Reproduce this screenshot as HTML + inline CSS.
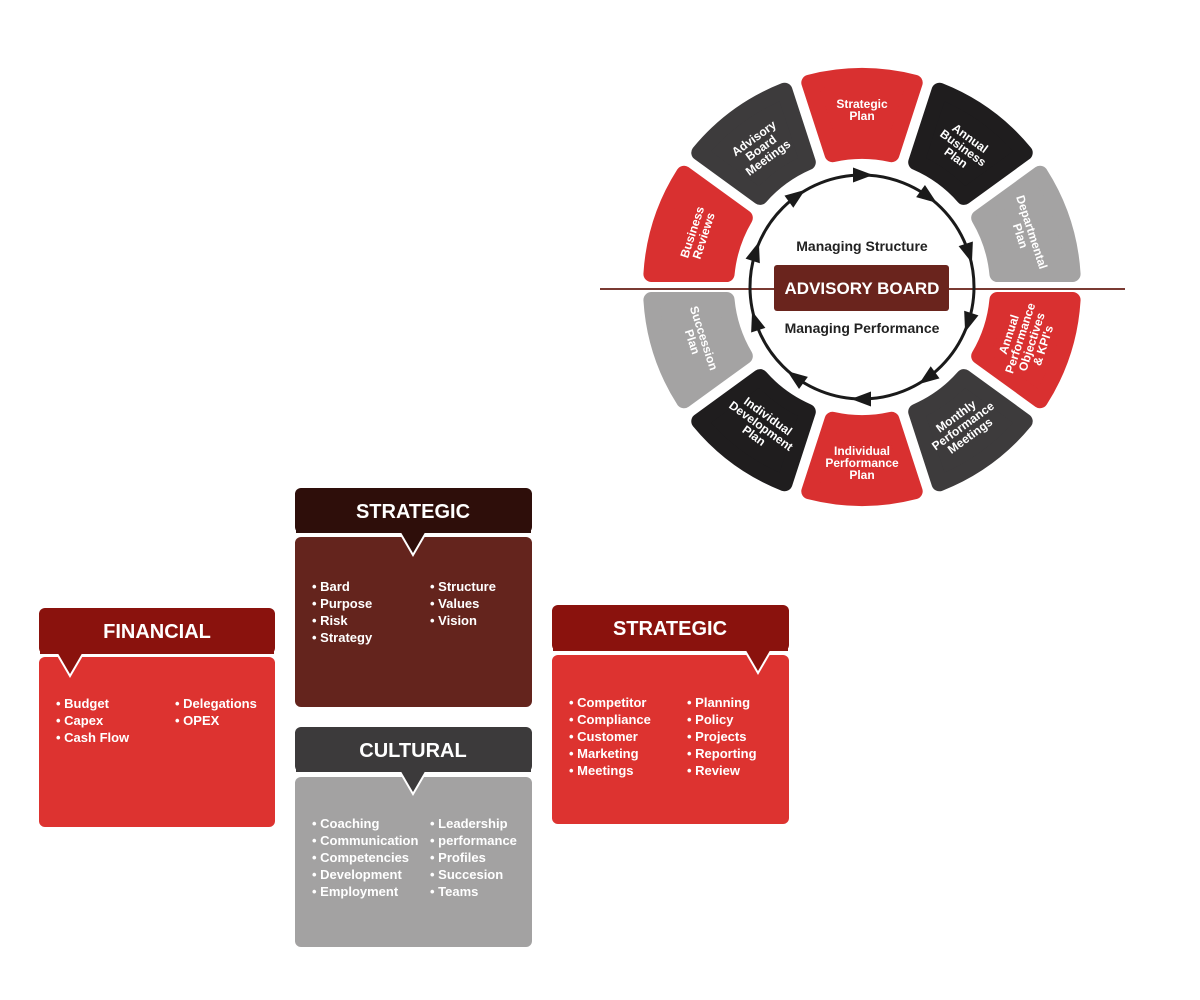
<!DOCTYPE html>
<html><head><meta charset="utf-8"><style>
html,body{margin:0;padding:0;background:#fff;width:1200px;height:1000px;overflow:hidden}
svg{display:block;font-family:"Liberation Sans",sans-serif}
.w{fill:#fff;font-weight:bold;font-size:12px}
.b{fill:#fff;font-weight:bold;font-size:13px}
.t{fill:#fff;font-weight:bold;font-size:20px}
</style></head><body>
<svg width="1200" height="1000" viewBox="0 0 1200 1000">
<defs>
<path id="seg" d="M -29.5 -132.8 L -52.7 -204.3 A 211 211 0 0 1 52.7 -204.3 L 29.5 -132.8 A 136 136 0 0 0 -29.5 -132.8 Z" stroke-width="16" stroke-linejoin="round"/>
<path id="arr" d="M -9 -7.5 L 11 0 L -9 7.5 Z" fill="#1a1a1a"/>
</defs>
<line x1="600" y1="289" x2="1125" y2="289" stroke="#7a3a33" stroke-width="2"/>
<g transform="translate(862 287)">
<use href="#seg" fill="#d93030" stroke="#d93030" transform="rotate(0)"/>
<use href="#seg" fill="#1f1d1e" stroke="#1f1d1e" transform="rotate(36)"/>
<use href="#seg" fill="#a4a3a3" stroke="#a4a3a3" transform="rotate(72)"/>
<use href="#seg" fill="#d93030" stroke="#d93030" transform="rotate(108)"/>
<use href="#seg" fill="#3d3b3c" stroke="#3d3b3c" transform="rotate(144)"/>
<use href="#seg" fill="#d93030" stroke="#d93030" transform="rotate(180)"/>
<use href="#seg" fill="#1f1d1e" stroke="#1f1d1e" transform="rotate(216)"/>
<use href="#seg" fill="#a4a3a3" stroke="#a4a3a3" transform="rotate(252)"/>
<use href="#seg" fill="#d93030" stroke="#d93030" transform="rotate(288)"/>
<use href="#seg" fill="#3d3b3c" stroke="#3d3b3c" transform="rotate(324)"/>
<circle cx="0" cy="0" r="112" fill="none" stroke="#1a1a1a" stroke-width="3"/>
<g transform="rotate(0)"><use href="#arr" x="0" y="-112"/></g>
<g transform="rotate(36)"><use href="#arr" x="0" y="-112"/></g>
<g transform="rotate(72)"><use href="#arr" x="0" y="-112"/></g>
<g transform="rotate(108)"><use href="#arr" x="0" y="-112"/></g>
<g transform="rotate(144)"><use href="#arr" x="0" y="-112"/></g>
<g transform="rotate(180)"><use href="#arr" x="0" y="-112"/></g>
<g transform="rotate(216)"><use href="#arr" x="0" y="-112"/></g>
<g transform="rotate(252)"><use href="#arr" x="0" y="-112"/></g>
<g transform="rotate(288)"><use href="#arr" x="0" y="-112"/></g>
<g transform="rotate(324)"><use href="#arr" x="0" y="-112"/></g>
</g>
<g class="w" text-anchor="middle">
<text transform="translate(862 110) rotate(0)"><tspan x="0" y="-2">Strategic</tspan><tspan x="0" y="10">Plan</tspan></text>
<text transform="translate(963 148) rotate(36)"><tspan x="0" y="-8">Annual</tspan><tspan x="0" y="4">Business</tspan><tspan x="0" y="16">Plan</tspan></text>
<text transform="translate(1026 234) rotate(72)"><tspan x="0" y="-2">Departmental</tspan><tspan x="0" y="10">Plan</tspan></text>
<text transform="translate(1026 340) rotate(-72)"><tspan x="0" y="-14">Annual</tspan><tspan x="0" y="-2">Performance</tspan><tspan x="0" y="10">Objectives</tspan><tspan x="0" y="22">&amp; KPI's</tspan></text>
<text transform="translate(963 426) rotate(-36)"><tspan x="0" y="-8">Monthly</tspan><tspan x="0" y="4">Performance</tspan><tspan x="0" y="16">Meetings</tspan></text>
<text transform="translate(862 459) rotate(0)"><tspan x="0" y="-4">Individual</tspan><tspan x="0" y="8">Performance</tspan><tspan x="0" y="20">Plan</tspan></text>
<text transform="translate(761 426) rotate(36)"><tspan x="0" y="-8">Individual</tspan><tspan x="0" y="4">Development</tspan><tspan x="0" y="16">Plan</tspan></text>
<text transform="translate(698 340) rotate(72)"><tspan x="0" y="-2">Succession</tspan><tspan x="0" y="10">Plan</tspan></text>
<text transform="translate(698 234) rotate(-72)"><tspan x="0" y="-2">Business</tspan><tspan x="0" y="10">Reviews</tspan></text>
<text transform="translate(761 148) rotate(-36)"><tspan x="0" y="-8">Advisory</tspan><tspan x="0" y="4">Board</tspan><tspan x="0" y="16">Meetings</tspan></text>
</g>
<rect x="774" y="265" width="175" height="46" rx="3" fill="#6a241d"/>
<text x="862" y="294" text-anchor="middle" fill="#fff" font-weight="bold" font-size="17">ADVISORY BOARD</text>
<text x="862" y="251" text-anchor="middle" fill="#222" font-weight="bold" font-size="14">Managing Structure</text>
<text x="862" y="333" text-anchor="middle" fill="#222" font-weight="bold" font-size="14">Managing Performance</text>

<!-- STRATEGIC dark -->
<rect x="295" y="537" width="237" height="170" rx="6" fill="#64241d"/>
<rect x="295" y="488" width="237" height="45" rx="6" fill="#2e0e0a"/>
<polygon points="399,531 413,555 427,531" fill="#2e0e0a" stroke="#fff" stroke-width="2"/>
<rect x="296" y="525" width="235" height="8" fill="#2e0e0a"/>
<text x="413" y="518" text-anchor="middle" class="t">STRATEGIC</text>
<g class="b"><text x="312" y="591">• Bard</text><text x="312" y="608">• Purpose</text><text x="312" y="625">• Risk</text><text x="312" y="642">• Strategy</text>
<text x="430" y="591">• Structure</text><text x="430" y="608">• Values</text><text x="430" y="625">• Vision</text></g>

<!-- CULTURAL -->
<rect x="295" y="777" width="237" height="170" rx="6" fill="#a3a2a2"/>
<rect x="295" y="727" width="237" height="45" rx="6" fill="#3c3a3b"/>
<polygon points="399,770 413,794 427,770" fill="#3c3a3b" stroke="#fff" stroke-width="2"/>
<rect x="296" y="764" width="235" height="8" fill="#3c3a3b"/>
<text x="413" y="757" text-anchor="middle" class="t">CULTURAL</text>
<g class="b"><text x="312" y="828">• Coaching</text><text x="312" y="845">• Communication</text><text x="312" y="862">• Competencies</text><text x="312" y="879">• Development</text><text x="312" y="896">• Employment</text>
<text x="430" y="828">• Leadership</text><text x="430" y="845">• performance</text><text x="430" y="862">• Profiles</text><text x="430" y="879">• Succesion</text><text x="430" y="896">• Teams</text></g>

<!-- FINANCIAL -->
<rect x="39" y="657" width="236" height="170" rx="6" fill="#dd3330"/>
<rect x="39" y="608" width="236" height="46" rx="6" fill="#8a120d"/>
<polygon points="56,652 70,676 84,652" fill="#8a120d" stroke="#fff" stroke-width="2"/>
<rect x="40" y="646" width="234" height="8" fill="#8a120d"/>
<text x="157" y="638" text-anchor="middle" class="t">FINANCIAL</text>
<g class="b"><text x="56" y="708">• Budget</text><text x="56" y="725">• Capex</text><text x="56" y="742">• Cash Flow</text>
<text x="175" y="708">• Delegations</text><text x="175" y="725">• OPEX</text></g>

<!-- STRATEGIC right -->
<rect x="552" y="655" width="237" height="169" rx="6" fill="#dd3330"/>
<rect x="552" y="605" width="237" height="46" rx="6" fill="#8a120d"/>
<polygon points="744,649 758,673 772,649" fill="#8a120d" stroke="#fff" stroke-width="2"/>
<rect x="553" y="643" width="235" height="8" fill="#8a120d"/>
<text x="670" y="635" text-anchor="middle" class="t">STRATEGIC</text>
<g class="b"><text x="569" y="707">• Competitor</text><text x="569" y="724">• Compliance</text><text x="569" y="741">• Customer</text><text x="569" y="758">• Marketing</text><text x="569" y="775">• Meetings</text>
<text x="687" y="707">• Planning</text><text x="687" y="724">• Policy</text><text x="687" y="741">• Projects</text><text x="687" y="758">• Reporting</text><text x="687" y="775">• Review</text></g>
</svg>
</body></html>
